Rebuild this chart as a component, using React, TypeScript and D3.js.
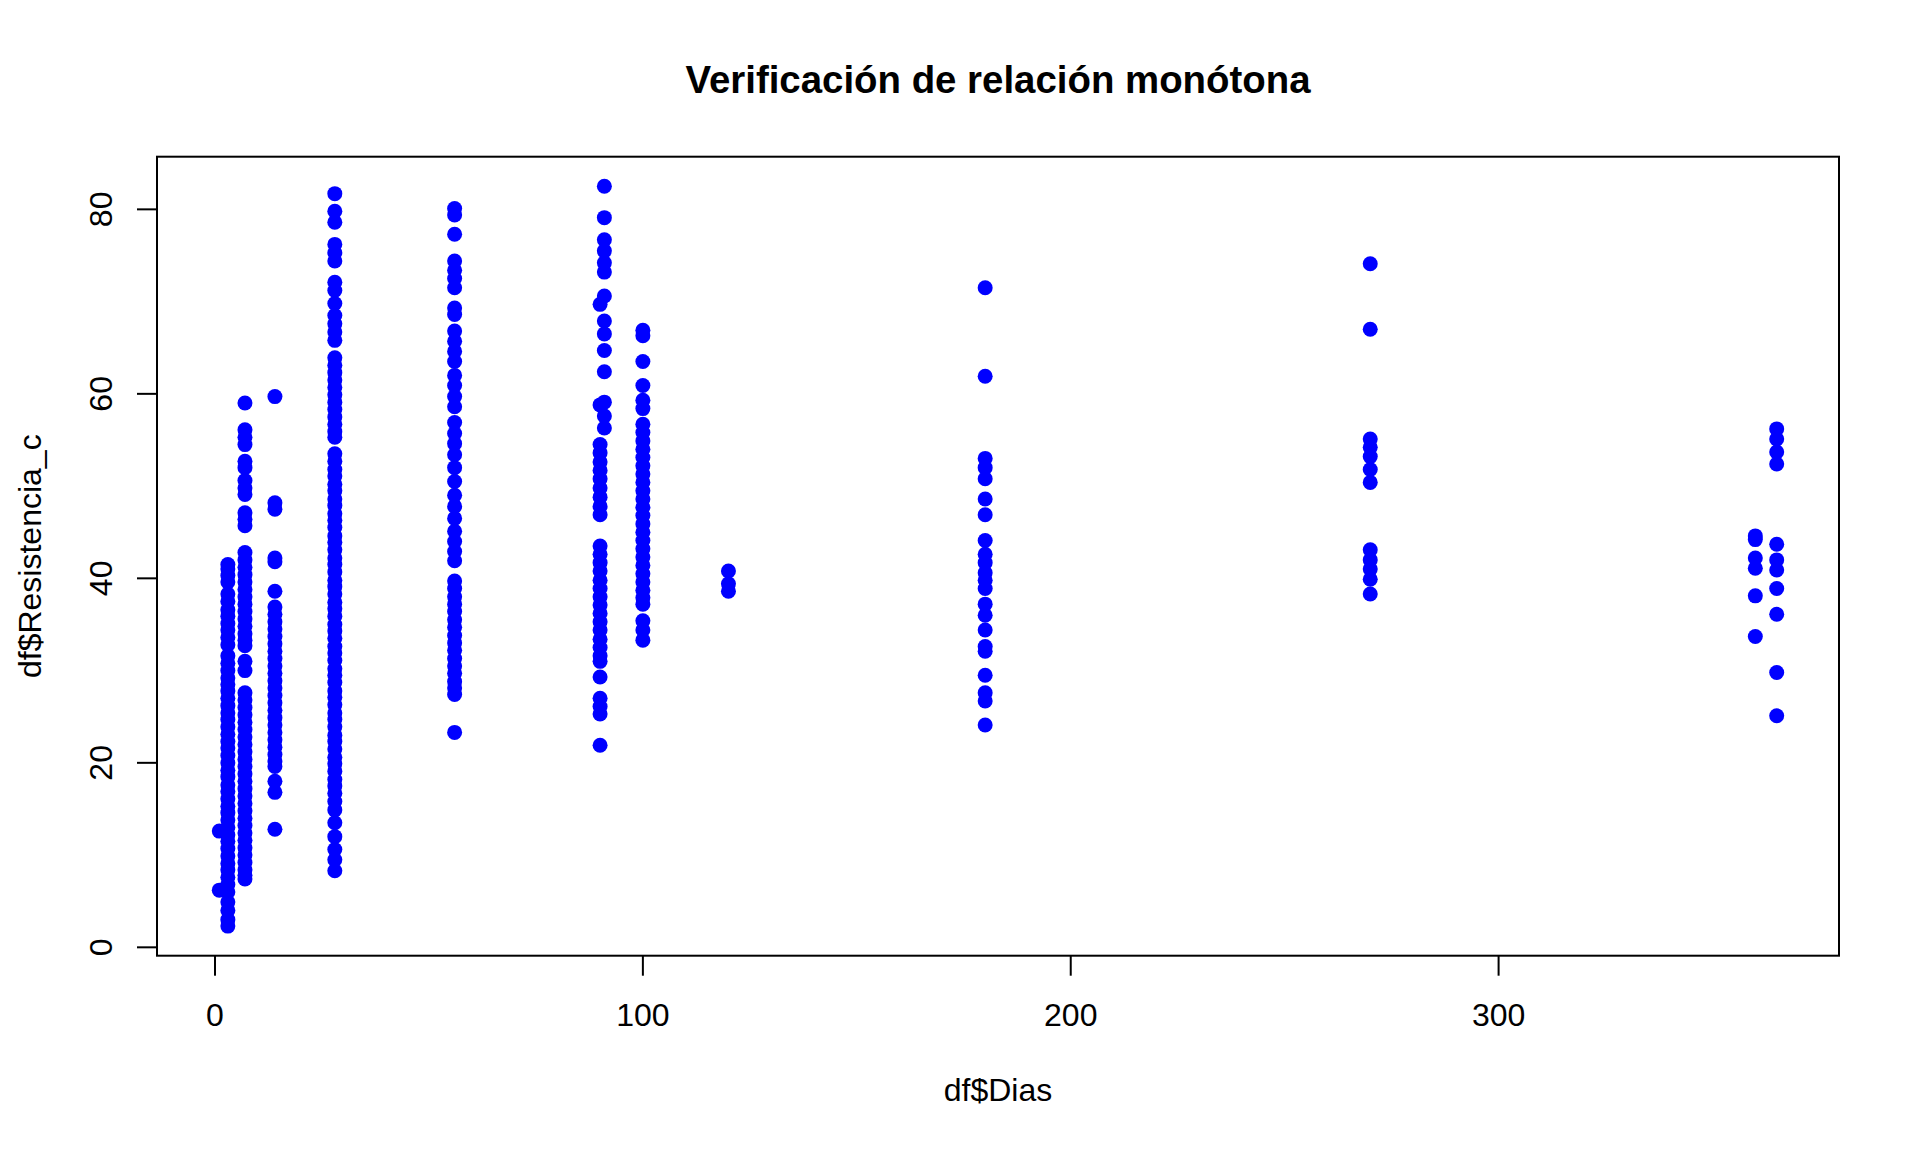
import * as d3 from "d3";

// Resistencia_c readings grouped by Dias
const dias = [1, 3, 7, 14, 28, 56, 90, 91, 100, 120, 180, 270, 360, 365];

const r1 = [12.6, 6.2];
const r3 = [41.5, 41.0, 40.3, 39.6, 38.3, 37.5, 36.6, 35.9, 35.1, 34.4, 33.6, 32.8, 31.6, 30.8, 30.0, 29.2, 28.5, 27.8, 27.0, 26.2, 25.4, 24.7, 23.9, 23.1, 22.3, 21.6, 20.8, 20.0, 19.2, 18.5, 17.6, 16.9, 16.1, 15.3, 14.6, 13.8, 13.0, 12.2, 11.5, 10.7, 9.9, 9.1, 8.4, 7.6, 6.8, 6.0, 4.9, 4.0, 3.0, 2.3];
const r7 = [59.0, 56.1, 55.3, 54.5, 52.7, 52.0, 50.6, 49.8, 49.1, 47.1, 46.4, 45.7, 42.8, 42.0, 41.2, 40.4, 39.6, 38.8, 38.0, 37.2, 36.4, 35.6, 34.8, 34.0, 33.3, 32.7, 31.0, 30.0, 27.6, 26.8, 26.0, 25.2, 24.4, 23.6, 22.8, 22.0, 21.2, 20.4, 19.6, 18.8, 18.0, 17.2, 16.4, 15.6, 14.8, 14.0, 13.2, 12.4, 11.6, 10.8, 10.0, 9.2, 8.4, 7.8, 7.4];
const r14 = [59.7, 48.2, 47.5, 42.2, 41.8, 38.6, 36.9, 36.1, 35.3, 34.5, 33.7, 32.9, 32.1, 31.3, 30.5, 29.7, 28.9, 28.1, 27.3, 26.5, 25.7, 24.9, 24.1, 23.3, 22.5, 21.7, 20.9, 20.2, 19.6, 18.0, 16.8, 12.8];
const r28 = [81.7, 79.8, 78.6, 76.2, 75.3, 74.4, 72.1, 71.2, 69.8, 68.5, 67.6, 66.7, 65.8, 63.9, 63.1, 62.3, 61.5, 60.7, 59.9, 59.1, 58.3, 57.5, 56.7, 55.9, 55.3, 53.5, 52.7, 51.8, 51.1, 50.2, 49.5, 48.6, 47.9, 47.0, 46.3, 45.5, 44.6, 43.9, 43.1, 42.2, 41.5, 40.7, 39.8, 39.1, 38.3, 37.4, 36.7, 35.9, 35.0, 34.3, 33.5, 32.6, 31.9, 31.1, 30.2, 29.5, 28.7, 27.8, 27.1, 26.3, 25.4, 24.7, 23.9, 23.0, 22.3, 21.5, 20.6, 19.9, 19.1, 18.2, 17.5, 16.7, 15.8, 14.9, 13.5, 12.0, 10.6, 9.5, 8.3];
const r56 = [80.1, 79.4, 77.3, 74.4, 73.4, 72.5, 71.5, 69.3, 68.6, 66.8, 65.7, 64.6, 63.5, 62.0, 60.9, 59.7, 58.6, 56.9, 55.7, 54.6, 53.4, 52.0, 50.5, 49.0, 47.8, 46.5, 45.1, 44.0, 42.9, 41.9, 39.7, 38.9, 38.0, 37.2, 36.4, 35.5, 34.7, 33.8, 33.0, 32.2, 31.3, 30.5, 29.7, 28.8, 28.1, 27.4, 23.3];
const r90 = [69.7, 58.8, 54.5, 53.6, 52.6, 51.7, 50.8, 49.8, 48.8, 47.8, 46.9, 43.5, 42.6, 41.7, 40.8, 39.8, 38.9, 38.0, 37.1, 36.2, 35.3, 34.4, 33.4, 32.5, 31.6, 31.0, 29.3, 27.0, 26.1, 25.3, 21.9];
const r91 = [82.5, 79.1, 76.7, 75.5, 74.2, 73.2, 70.6, 67.9, 66.5, 64.7, 62.4, 59.1, 57.6, 56.3];
const r100 = [66.9, 66.3, 63.5, 60.9, 59.3, 58.4, 56.7, 55.8, 54.9, 54.0, 53.1, 52.2, 51.3, 50.4, 49.5, 48.6, 47.7, 46.8, 45.9, 45.0, 44.1, 43.2, 42.3, 41.4, 40.5, 39.6, 38.7, 37.9, 37.2, 35.4, 34.4, 33.3];
const r120 = [40.8, 39.4, 38.6];
const r180 = [71.5, 61.9, 53.0, 52.0, 50.8, 48.6, 46.9, 44.1, 42.6, 41.7, 40.6, 39.8, 38.9, 37.2, 36.0, 34.4, 32.6, 32.1, 29.5, 27.6, 26.7, 24.1];
const r270 = [74.1, 67.0, 55.1, 54.2, 53.2, 51.8, 50.4, 43.1, 42.0, 41.0, 39.9, 38.3];
const r360 = [44.6, 44.2, 42.2, 41.1, 38.1, 33.7];
const r365 = [56.2, 55.1, 53.7, 52.4, 43.7, 42.0, 40.9, 38.9, 36.1, 29.8, 25.1];

const groups = [r1, r3, r7, r14, r28, r56, r90, r91, r100, r120, r180, r270, r360, r365];

const xTicks = [0, 100, 200, 300];
const yTicks = [0, 20, 40, 60, 80];

const W = 1920, H = 1152;
const m = { top: 156.7, right: 81, bottom: 196.3, left: 157 };
const font = "'Liberation Sans', Arial, sans-serif";

// R-style axis range: data range padded by 4% on each side
const pad = ([lo, hi]: [number, number]) => {
  const d = (hi - lo) * 0.04;
  return [lo - d, hi + d];
};

const points = groups.flatMap((vals, i) => vals.map((v) => ({ x: dias[i], y: v })));

export default function App() {
  const x = d3.scaleLinear()
    .domain(pad(d3.extent(points, (d) => d.x) as [number, number]))
    .range([m.left, W - m.right]);
  const y = d3.scaleLinear()
    .domain(pad(d3.extent(points, (d) => d.y) as [number, number]))
    .range([H - m.bottom, m.top]);

  const bottom = H - m.bottom;
  const cx = (m.left + W - m.right) / 2;
  const cy = (m.top + bottom) / 2;

  return (
    <svg
      width={W}
      height={H}
      style={{ position: "absolute", left: 0, top: 0, background: "#fff" }}
      fontFamily={font}
    >
      <rect x={0} y={0} width={W} height={H} fill="#fff" />
      <text x={cx} y={93} textAnchor="middle" fontSize={38.4} fontWeight="bold">
        Verificación de relación monótona
      </text>

      {points.map((p, i) => (
        <circle key={i} cx={x(p.x)} cy={y(p.y)} r={7.5} fill="#0000ff" />
      ))}

      <rect
        x={m.left}
        y={m.top}
        width={W - m.right - m.left}
        height={bottom - m.top}
        fill="none"
        stroke="#000"
        strokeWidth={2}
      />

      {xTicks.map((t) => (
        <g key={t}>
          <line x1={x(t)} x2={x(t)} y1={bottom} y2={bottom + 20} stroke="#000" strokeWidth={2} />
          <text x={x(t)} y={bottom + 70} textAnchor="middle" fontSize={32}>{t}</text>
        </g>
      ))}

      {yTicks.map((t) => (
        <g key={t}>
          <line x1={m.left - 20} x2={m.left} y1={y(t)} y2={y(t)} stroke="#000" strokeWidth={2} />
          <text transform={`translate(112,${y(t)}) rotate(-90)`} textAnchor="middle" fontSize={32}>{t}</text>
        </g>
      ))}

      <text x={cx} y={1101} textAnchor="middle" fontSize={32}>df$Dias</text>
      <text transform={`translate(41,${cy}) rotate(-90)`} textAnchor="middle" fontSize={32}>
        df$Resistencia_c
      </text>
    </svg>
  );
}
